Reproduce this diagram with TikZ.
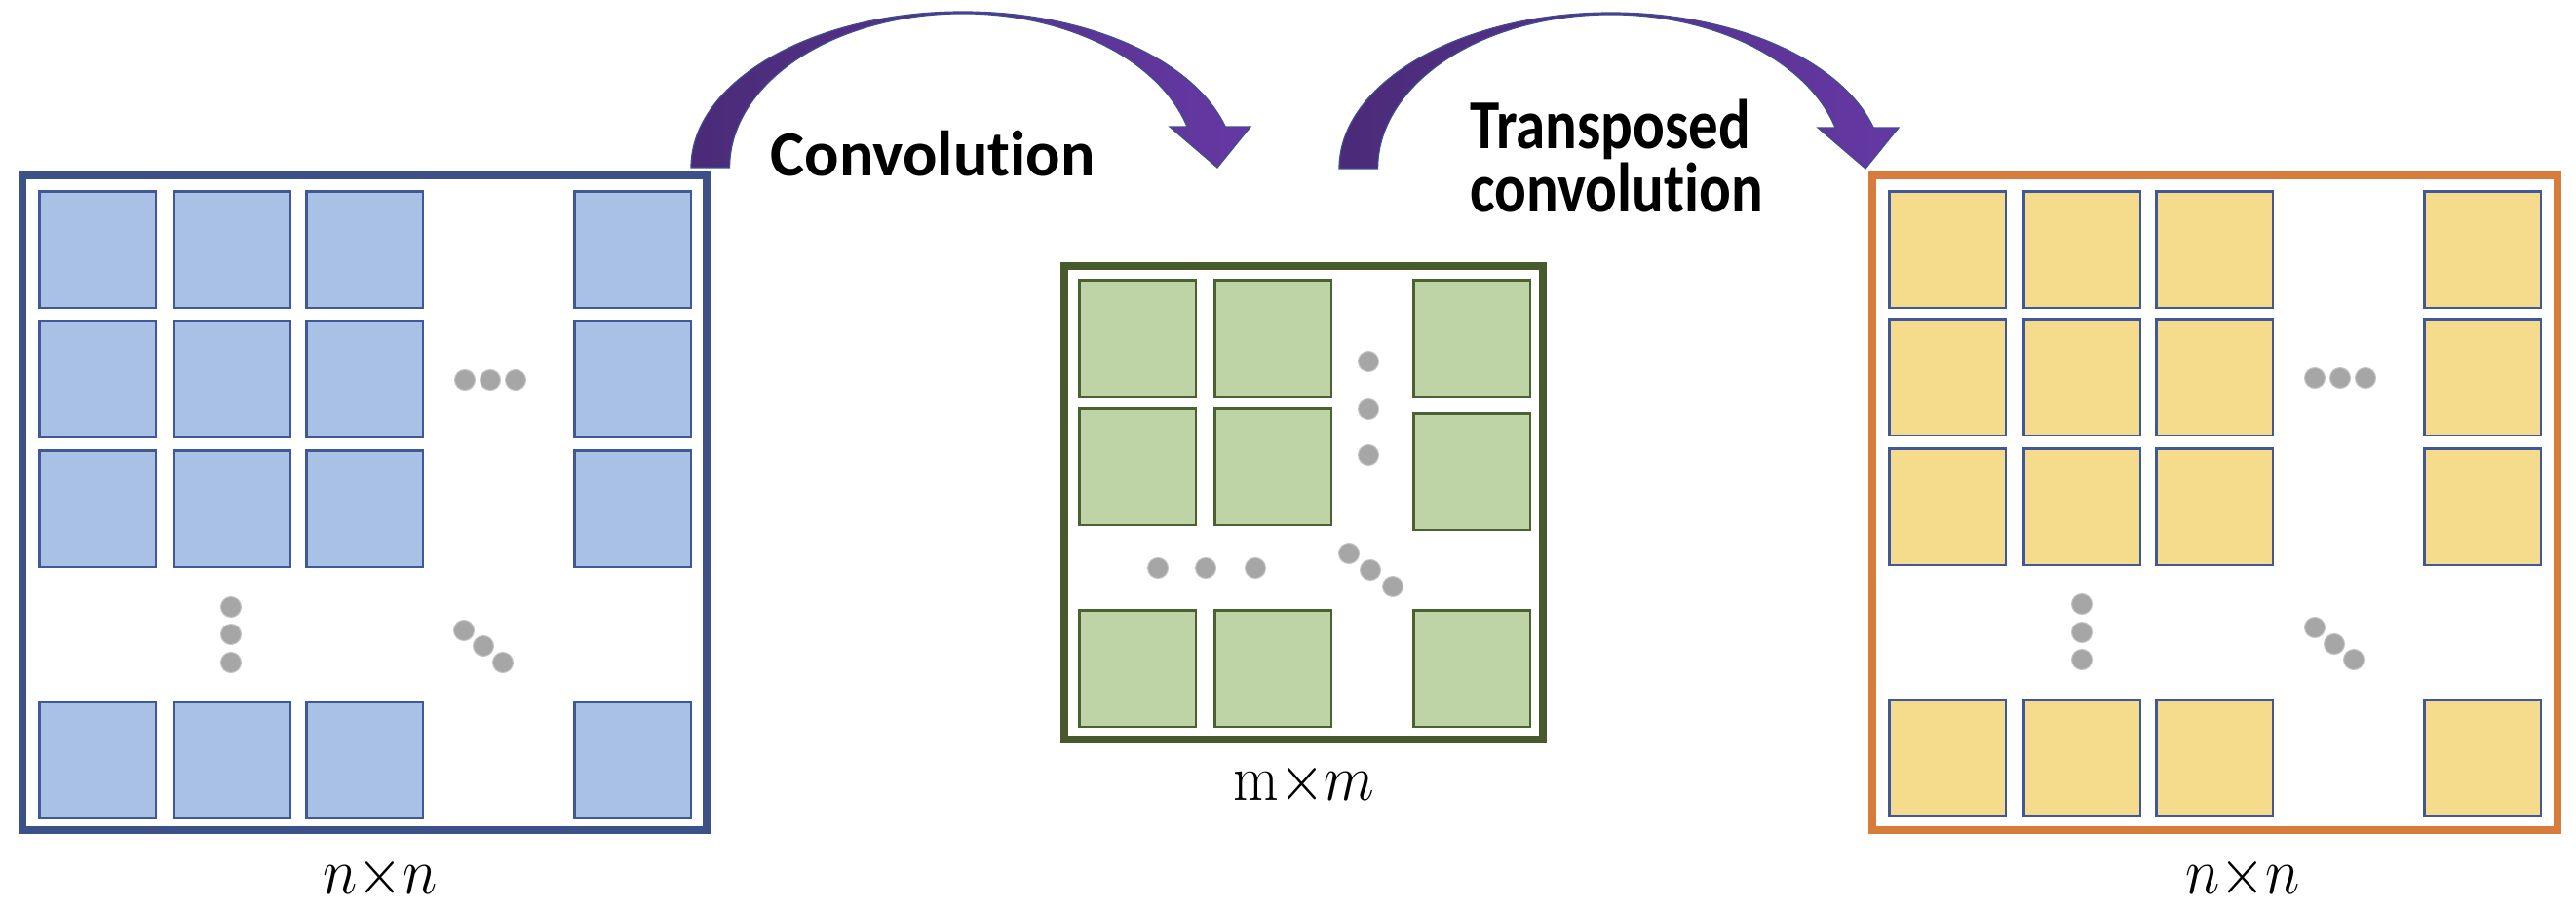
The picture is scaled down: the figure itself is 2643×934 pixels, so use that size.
\documentclass[tikz,border=0pt]{standalone}
\usepackage{fix-cm}
\usepackage{fontspec}
\usepackage{graphicx}
\newfontfamily\carlito{Carlito}[Ligatures={NoCommon,NoContextual}]
\definecolor{bBorder}{HTML}{3D5189}
\definecolor{bFill}{HTML}{A9C1E5}
\definecolor{bStroke}{HTML}{40579A}
\definecolor{gBorder}{HTML}{475A2D}
\definecolor{gFill}{HTML}{BFD4A6}
\definecolor{gStroke}{HTML}{4A6130}
\definecolor{oBorder}{HTML}{D77C3B}
\definecolor{yFill}{HTML}{F5DC8D}
\definecolor{dotGray}{HTML}{A6A6A6}
\definecolor{dotEdge}{HTML}{C4C4C4}
\definecolor{arrL}{HTML}{4A2B78}
\definecolor{arrR}{HTML}{6538A3}
\definecolor{arrE}{HTML}{3E4F8E}
\begin{document}
\begin{tikzpicture}[x=1pt,y=-1pt,
  frameL/.style={draw=bBorder,line width=8pt},
  frameM/.style={draw=gBorder,line width=8pt},
  frameR/.style={draw=oBorder,line width=8pt},
  cellL/.style={fill=bFill,draw=bStroke,line width=2.5pt},
  cellM/.style={fill=gFill,draw=gStroke,line width=2.5pt},
  cellR/.style={fill=yFill,draw=bStroke,line width=2.5pt},
  dotc/.style={fill=dotGray,draw=dotEdge,line width=1pt},
  arrowbody/.style={left color=arrL,right color=arrR,draw=arrE,line width=1.2pt},
  lbl/.style={anchor=base,inner sep=0pt,font=\fontsize{67}{72}\selectfont},
  optxt/.style={anchor=base,inner sep=0pt},
  curvarrow/.pic={
    \path[arrowbody] (709,172)
      arc[start angle=180,end angle=344.8,x radius=279,y radius=160]
      -- (1283,130) -- (1249,172) -- (1200,130) -- (1218,130)
      arc[start angle=344.6,end angle=180,x radius=239,y radius=158]
      -- cycle;
  }]
\useasboundingbox (0,0) rectangle (2643,934);
\fill[white] (0,0) rectangle (2643,934);

% arrows
\pic at (0,0) {curvarrow};
\pic at (665,1) {curvarrow};

% left box
\draw[frameL] (23,180) rectangle (725,852);
\foreach \cx in {39,177,313,588}
  \foreach \cy in {195,328,461,719}
    \draw[cellL] (\cx+1.25,\cy+1.25) rectangle ++(119.5,119.5);
\foreach \p in {(477,390),(503,390),(529,390),(237,623),(237,651),(237,680),(476,647),(496,663),(516,680)}
  \draw[dotc] \p circle[radius=10.5];

% middle box
\draw[frameM] (1092,273) rectangle (1583,759);
\foreach \p in {(1106,286),(1245,286),(1449,286),(1106,418),(1245,418),(1449,423),(1106,625),(1245,625),(1449,625)}
  \draw[cellM] \p ++(1.25,1.25) rectangle ++(119.5,119.5);
\foreach \p in {(1404,371),(1404,420),(1404,467),(1188,583),(1237,583),(1288,583),(1384,568),(1406,585),(1429,602)}
  \draw[dotc] \p circle[radius=10.5];

% right box
\draw[frameR] (1921,180) rectangle (2624,852);
\foreach \cx in {1937,2075,2211,2486}
  \foreach \cy in {195,326,459,717}
    \draw[cellR] (\cx+1.25,\cy+1.25) rectangle ++(119.5,119.5);
\foreach \p in {(2375,388),(2401,388),(2427,388),(2136,620),(2136,649),(2136,677),(2375,644),(2395,661),(2415,677)}
  \draw[dotc] \p circle[radius=10.5];

% texts
\node[optxt] (conv) at (957,180) {\carlito\bfseries\fontsize{66}{70}\selectfont Convolution};
\node[optxt,anchor=base west] (tconv) at (1508,152) {\carlito\bfseries\fontsize{61}{65}\selectfont
  \begin{tabular}[t]{@{}l@{}}\smash{\scalebox{1}[1.18]{Transposed}}\\\smash{\scalebox{1}[1.18]{convolution}}\end{tabular}};

\node[lbl] (lblL) at (390,917) {\scalebox{0.9}[1]{$n{\times}n$}};
\node[lbl] (lblM) at (1338,821) {\scalebox{0.9}[1]{$\mathrm{m}{\times}m$}};
\node[lbl] (lblR) at (2301,917) {\scalebox{0.9}[1]{$n{\times}n$}};
\end{tikzpicture}
\end{document}
